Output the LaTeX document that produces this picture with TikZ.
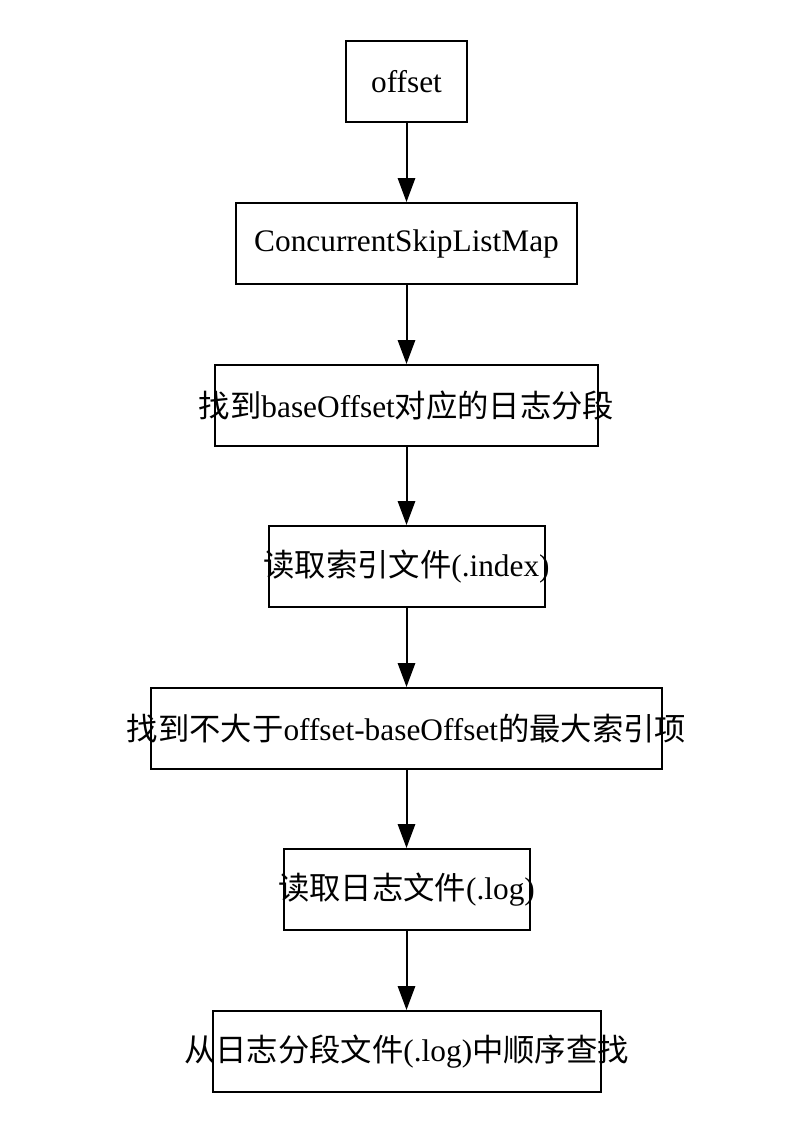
\documentclass[tikz,border=0pt]{standalone}
\usepackage{fontspec}
\setmainfont{Liberation Serif}
\newfontfamily\cjk{Noto Sans CJK SC}
\usetikzlibrary{arrows.meta}

% text may run past the box, as in the original
\newcommand{\overtext}[1]{\makebox[0pt]{#1}}

\begin{document}
\begin{tikzpicture}[x=0.75pt,y=-0.75pt,
  stepbox/.style={draw,line width=1.5pt,inner sep=0pt,minimum height=60.75pt,font=\fontsize{23.5}{27}\selectfont},
  arr/.style={line width=1.5pt,-{Triangle[length=18pt,width=13pt]}}]
  \useasboundingbox (0,0) rectangle (794,1146);
  \node[stepbox,minimum width=90.75pt] (offset) at (406.5,81.5) {\overtext{offset}};
  \node[stepbox,minimum width=255.75pt] (skiplist) at (406.5,243.5) {\overtext{ConcurrentSkipListMap}};
  \node[stepbox,minimum width=287.25pt] (segment) at (406.5,405.5) {\overtext{{\cjk 找到}baseOffset{\cjk 对应的日志分段}}};
  \node[stepbox,minimum width=207pt] (readindex) at (406.5,566.5) {\overtext{{\cjk 读取索引文件}(.index)}};
  \node[stepbox,minimum width=383.25pt] (indexitem) at (406.5,728.5) {\overtext{{\cjk 找到不大于}offset-baseOffset{\cjk 的最大索引项}}};
  \node[stepbox,minimum width=184.5pt] (readlog) at (406.5,889.5) {\overtext{{\cjk 读取日志文件}(.log)}};
  \node[stepbox,minimum width=291pt] (search) at (406.5,1051.5) {\overtext{{\cjk 从日志分段文件}(.log){\cjk 中顺序查找}}};
  \draw[arr] (offset) -- (skiplist);
  \draw[arr] (skiplist) -- (segment);
  \draw[arr] (segment) -- (readindex);
  \draw[arr] (readindex) -- (indexitem);
  \draw[arr] (indexitem) -- (readlog);
  \draw[arr] (readlog) -- (search);
\end{tikzpicture}
\end{document}
